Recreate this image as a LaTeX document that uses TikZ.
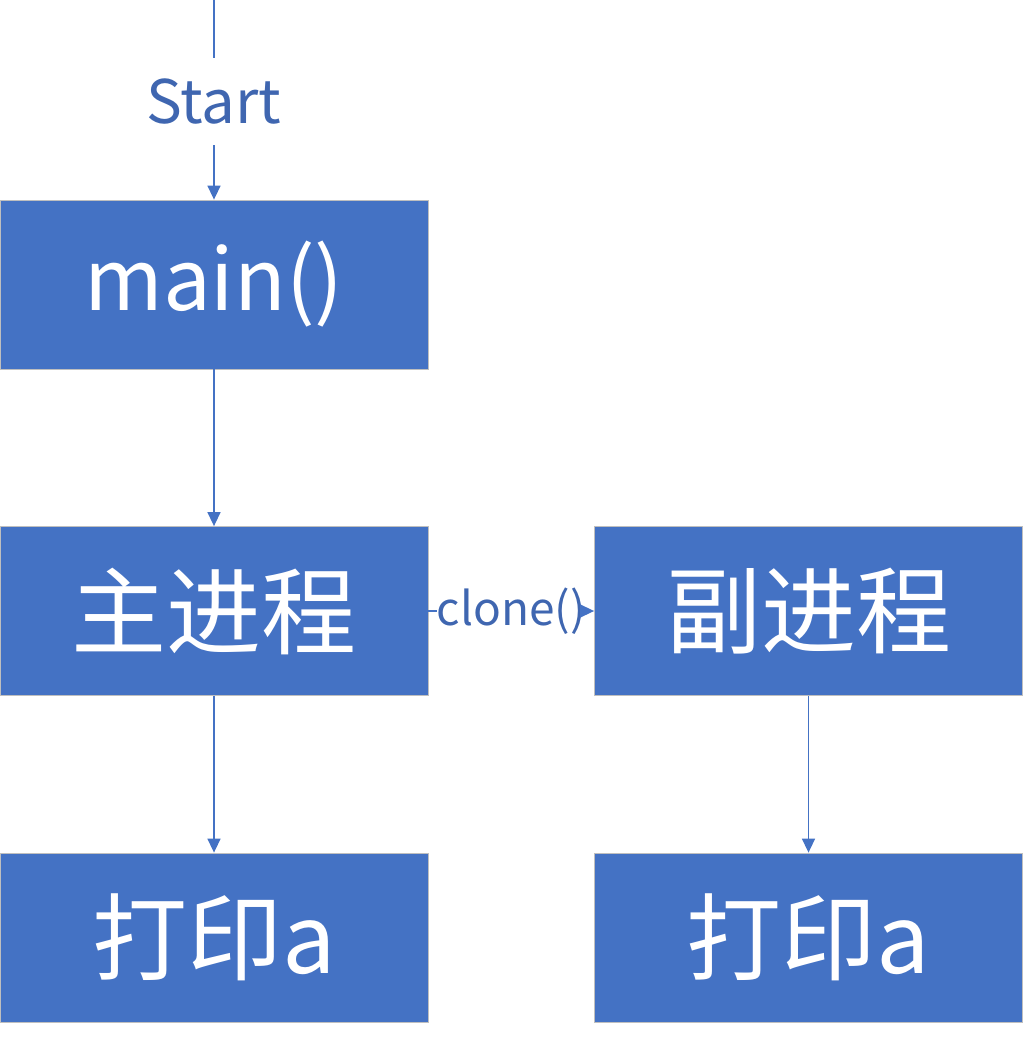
\documentclass[tikz,border=0pt]{standalone}
\usepackage{fontspec}
\newfontfamily\cjk{Noto Sans CJK SC}
\usetikzlibrary{arrows.meta}
\definecolor{boxblue}{HTML}{4472C4}
\definecolor{textblue}{HTML}{3F66B0}
\tikzstyle{procbox}=[rectangle,fill=boxblue,draw=black!25,line width=0.8pt,minimum width=428pt,minimum height=169pt,inner sep=0pt,text=white,font=\cjk\fontsize{95}{95}\selectfont]
\tikzstyle{flowtext}=[inner sep=0pt,text=textblue]
\tikzstyle{flowline}=[draw,boxblue,line width=1.5pt]
\tikzstyle{flow}=[flowline,-{Triangle[length=14pt,width=13pt]}]

\begin{document}
\begin{tikzpicture}[x=1pt,y=-1pt]
    \useasboundingbox (0,0) rectangle (1023,1044);

    \node[procbox, font=\cjk\fontsize{85}{85}\selectfont] (main) at (214,284.5) {main()};
    \foreach \pos/\name/\txt in {{(214,611)/mainproc/主进程}, {(808.5,611)/subproc/副进程}, {(214,937.5)/print1/打印a}, {(808.5,937.5)/print2/打印a}}
        \node[procbox] (\name) at \pos {\txt};

    \coordinate (top) at (214,0);
    \node[flowtext, minimum height=87pt, font=\cjk\fontsize{60}{60}\selectfont] (start) at (214,101.5) {Start};
    \node[flowtext, minimum width=138pt, font=\cjk\fontsize{46}{46}\selectfont] (clone) at (511.5,611) {clone()};

    \path[flowline] (top) -- (start);
    \path[flow] (start) -- (main);

    \foreach \source/\dest in {main/mainproc, mainproc/print1, subproc/print2, clone/subproc}
        \path[flow] (\source) -- (\dest);

    \path[flowline] (mainproc) -- (clone);
\end{tikzpicture}
\end{document}
